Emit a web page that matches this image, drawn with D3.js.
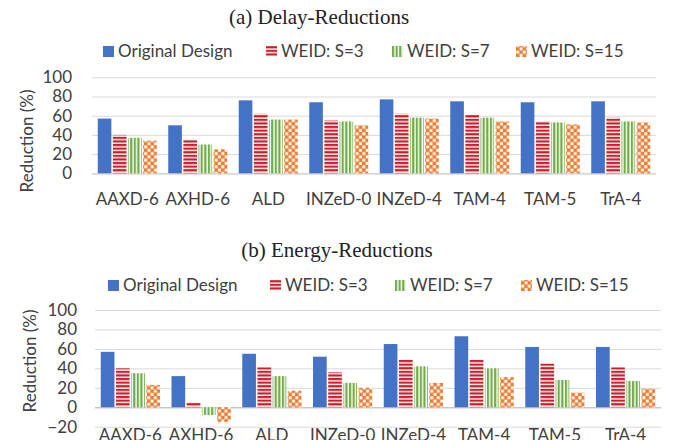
<!DOCTYPE html>
<html>
<head>
<meta charset="utf-8">
<script src="https://cdn.jsdelivr.net/npm/d3@7"></script>
<style>
  html, body { margin: 0; padding: 0; background: #fff; }
  svg { display: block; }
  .sans { font-family: Lato, 'Liberation Sans', sans-serif; }
</style>
</head>
<body>
<div id="chart"></div>
<script>
// chart values
const categories = ['AAXD-6', 'AXHD-6', 'ALD', 'INZeD-0', 'INZeD-4', 'TAM-4', 'TAM-5', 'TrA-4'];
const seriesNames = ['Original Design', 'WEID: S=3', 'WEID: S=7', 'WEID: S=15'];

const delayOriginal = [57, 50, 76, 74, 77, 75, 74, 75];
const delayS3 = [40, 35, 62, 55, 62, 61, 54, 58];
const delayS7 = [37, 30, 56, 54, 58, 58, 53, 54];
const delayS15 = [34, 25, 56, 50, 57, 54, 51, 53];

const energyOriginal = [57, 32, 55, 52, 65, 73, 62, 62];
const energyS3 = [40, 5, 41, 36, 49, 49, 45, 41];
const energyS7 = [35, -8, 32, 25, 42, 40, 28, 27];
const energyS15 = [23, -15, 17, 20, 25, 31, 15, 19];

const delayTicks = [0, 20, 40, 60, 80, 100];
const energyTicks = [-20, 0, 20, 40, 60, 80, 100];

const fills = ['#4472c4', 'url(#hstripe)', 'url(#vstripe)', 'url(#checker)'];

const svg = d3.select('#chart')
  .append('svg')
  .attr('width', 681)
  .attr('height', 440);

// fill patterns (Excel style)
const defs = svg.append('defs');

const hs = defs.append('pattern')
  .attr('id', 'hstripe')
  .attr('patternUnits', 'userSpaceOnUse')
  .attr('width', 4).attr('height', 3.6);
hs.append('rect').attr('width', 4).attr('height', 3.6).attr('fill', '#fff');
hs.append('rect').attr('width', 4).attr('height', 2.2).attr('fill', '#c8202b');

const vs = defs.append('pattern')
  .attr('id', 'vstripe')
  .attr('patternUnits', 'userSpaceOnUse')
  .attr('width', 3.6).attr('height', 4);
vs.append('rect').attr('width', 3.6).attr('height', 4).attr('fill', '#fff');
vs.append('rect').attr('width', 2.2).attr('height', 4).attr('fill', '#70ad47');

const ck = defs.append('pattern')
  .attr('id', 'checker')
  .attr('patternUnits', 'userSpaceOnUse')
  .attr('width', 6.6).attr('height', 6.6);
ck.append('rect').attr('width', 6.6).attr('height', 6.6).attr('fill', '#ed7d31');
ck.append('rect').attr('x', 0.3).attr('y', 0.3).attr('width', 2.9).attr('height', 2.9).attr('fill', '#fff');
ck.append('rect').attr('x', 3.6).attr('y', 3.6).attr('width', 2.9).attr('height', 2.9).attr('fill', '#fff');

function drawPanel(p) {
  const g = svg.append('g');

  // title
  g.append('text')
    .attr('x', p.titleX)
    .attr('y', p.titleY)
    .attr('text-anchor', 'middle')
    .style('font-family', "'Liberation Serif', 'Times New Roman', serif")
    .style('font-size', '21px')
    .attr('fill', '#222')
    .text(p.title);

  // legend
  const leg = g.selectAll('.leg')
    .data(seriesNames)
    .enter()
    .append('g')
    .attr('transform', (d, i) => 'translate(' + p.legendX[i] + ',' + p.legendY + ')');
  leg.append('rect')
    .attr('x', 0).attr('y', -11)
    .attr('width', 11).attr('height', 11)
    .attr('fill', (d, i) => fills[i]);
  leg.append('text')
    .attr('class', 'sans')
    .attr('x', 15)
    .attr('y', 0)
    .style('font-size', '17px')
    .attr('fill', '#404040')
    .text(d => d);

  // scales
  const x0 = d3.scaleBand()
    .domain(categories)
    .range([p.left, p.right])
    .paddingInner(0.163)
    .paddingOuter(0.0815);

  const x1 = d3.scaleBand()
    .domain(d3.range(seriesNames.length))
    .range([0, x0.bandwidth()])
    .paddingInner(0.1);

  const y = d3.scaleLinear()
    .domain(p.domain)
    .range([p.bottom, p.top]);

  // gridlines + y tick labels
  const yAxis = g.append('g')
    .attr('transform', 'translate(' + p.left + ',0)')
    .call(d3.axisLeft(y).tickValues(p.ticks).tickSize(-(p.right - p.left)).tickPadding(p.tickPad));
  yAxis.select('.domain').remove();
  yAxis.selectAll('line').attr('stroke', '#d9d9d9');
  yAxis.selectAll('.tick')
    .filter(d => d === 0)
    .select('line')
    .attr('stroke', '#c8c8c8')
    .attr('stroke-width', 1.3);
  yAxis.selectAll('text')
    .attr('class', 'sans')
    .style('font-size', '17px')
    .attr('fill', '#404040');

  // y axis title
  g.append('text')
    .attr('class', 'sans')
    .attr('transform', 'translate(' + p.yTitleX + ',' + p.yTitleY + ') rotate(-90)')
    .attr('text-anchor', 'middle')
    .style('font-size', '17px')
    .attr('fill', '#404040')
    .text('Reduction (%)');

  // category labels
  g.selectAll('.cat')
    .data(categories)
    .enter()
    .append('text')
    .attr('class', 'sans')
    .attr('x', d => x0(d) + x0.bandwidth() / 2)
    .attr('y', p.catY)
    .attr('text-anchor', 'middle')
    .style('font-size', '17px')
    .attr('fill', '#404040')
    .text(d => d);

  // bars
  const groups = g.selectAll('.grp')
    .data(categories)
    .enter()
    .append('g')
    .attr('transform', d => 'translate(' + x0(d) + ',0)');

  groups.selectAll('rect')
    .data((d, ci) => p.series.map((s, si) => ({ si: si, v: s[ci] })))
    .enter()
    .append('rect')
    .attr('x', d => x1(d.si))
    .attr('y', d => Math.min(y(d.v), y(0)))
    .attr('width', x1.bandwidth())
    .attr('height', d => Math.abs(y(d.v) - y(0)))
    .attr('fill', d => fills[d.si]);
}

drawPanel({
  title: '(a) Delay-Reductions',
  titleX: 319, titleY: 24,
  legendX: [103, 266, 392, 516], legendY: 57,
  series: [delayOriginal, delayS3, delayS7, delayS15],
  ticks: delayTicks, domain: [0, 100],
  left: 92, right: 656, top: 77.3, bottom: 173.3,
  tickPad: 20, yTitleX: 33, yTitleY: 141,
  catY: 205
});

drawPanel({
  title: '(b) Energy-Reductions',
  titleX: 337, titleY: 257,
  legendX: [108, 270, 395, 521], legendY: 291,
  series: [energyOriginal, energyS3, energyS7, energyS15],
  ticks: energyTicks, domain: [-20, 100],
  left: 95, right: 661, top: 310, bottom: 426.7,
  tickPad: 18, yTitleX: 36, yTitleY: 361,
  catY: 440.5
});
</script>
</body>
</html>
